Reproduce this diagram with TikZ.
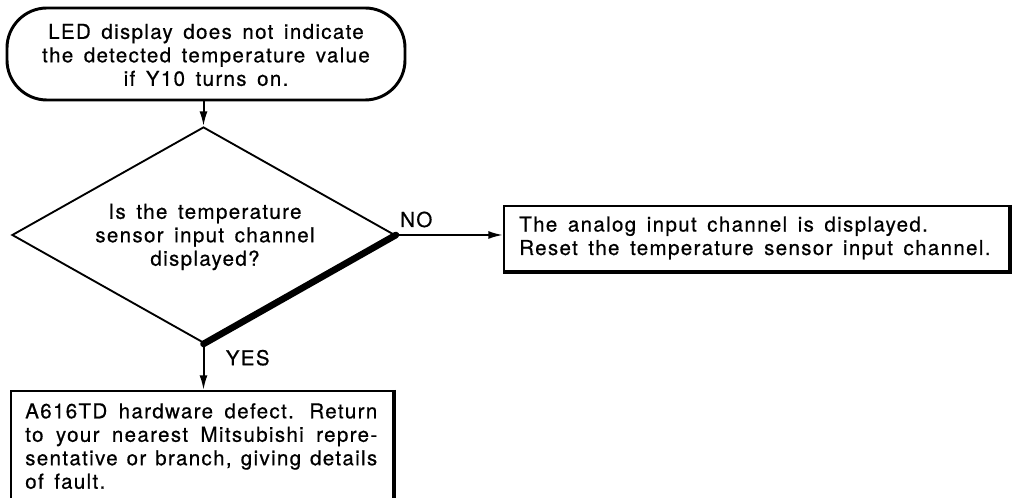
\documentclass[tikz,border=0pt]{standalone}
\usepackage{fontspec}
\usetikzlibrary{shapes.geometric,arrows.meta}
\newfontfamily\hv[LetterSpace=6.5,WordSpace=1.5,FakeBold=0.6]{TeX Gyre Heros}
\begin{document}
\begin{tikzpicture}[x=0.75pt,y=-0.75pt,
  txt/.style={font=\hv\fontsize{15.4pt}{17.6pt}\selectfont, inner sep=0pt},
  outl/.style={draw, line width=1.6pt, inner sep=0pt},
  heavy/.style={line width=3pt},
  arr/.style={line width=1.5pt, -{Latex[length=11pt,width=6pt]}},
  lbl/.style={font=\hv\fontsize{15.4pt}{17.6pt}\selectfont, inner sep=0pt}]
\useasboundingbox (0,0) rectangle (1014,498);
\clip (0,0) rectangle (1014,498);
% terminal
\node[outl, rounded corners=30pt, minimum width=298.5pt, minimum height=69pt, line width=2.2pt] (t) at (206,54) {};
\node[txt, align=center] (tt) at (206,55) {LED display does not indicate\\the detected temperature value\\if Y10 turns on.};
% decision
\node[outl, diamond, minimum width=287.25pt, minimum height=162pt, line width=1.4pt] (d) at (203.5,235) {};
\draw[line width=5pt, line cap=round] (d.east) -- (d.south);
\node[txt, align=center] (dt) at (205,237) {Is the temperature\\sensor input channel\\displayed?};
% right box
\node[outl, minimum width=378.75pt, minimum height=48.75pt, anchor=north west] (r) at (503,205) {};
\draw[heavy] (r.north east) -- (r.south east) -- (r.south west);
\node[txt, align=left, anchor=west] (rt) at (519,238) {The analog input channel is displayed.\\Reset the temperature sensor input channel.};
% bottom box
\node[outl, minimum width=286.5pt, minimum height=105pt, anchor=north west] (b) at (10,390) {};
\draw[heavy] (b.north east) -- (b.south east);
\node[txt, align=left, anchor=north west] (bt) at (25,403) {\makebox[264pt][s]{A616TD hardware defect. Return}\\\makebox[264pt][s]{to your nearest Mitsubishi repre-}\\\makebox[264pt][s]{sentative or branch, giving details}\\of fault.};
% connectors
\draw[arr] (t.south -| d.north) -- (d.north);
\draw[arr] (d.east) -- (d.east -| r.west) node[lbl, pos=0.19, above=5pt] (no) {NO};
\draw[arr] (d.south) -- (d.south |- b.north) node[lbl, pos=0.3, right=16pt] (yes) {YES};
\end{tikzpicture}
\end{document}
